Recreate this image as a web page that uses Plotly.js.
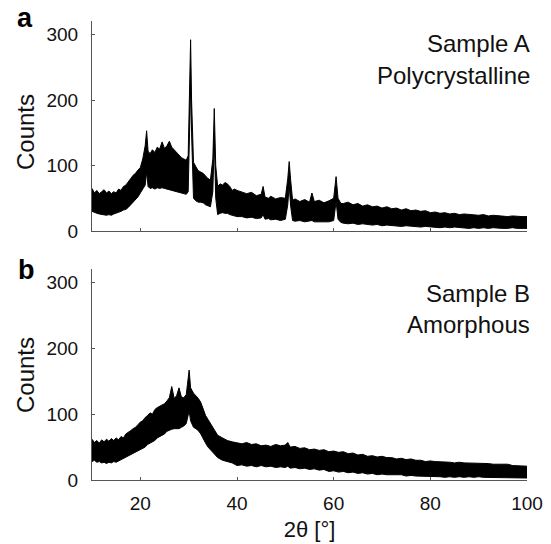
<!DOCTYPE html>
<html>
<head>
<meta charset="utf-8">
<script src="https://cdn.plot.ly/plotly-3.0.1.min.js"></script>
<style>html,body{margin:0;padding:0;background:#fff;}#chart{width:551px;height:544px;}</style>
</head>
<body>
<div id="chart"></div>
<script>
// Sample A (polycrystalline): 2θ positions with upper / lower edge of the noisy trace
var twoThetaA = [10,10.5,11,11.5,12,12.5,13,13.5,14,14.5,15,15.5,16,16.5,17,17.5,18,18.5,19,19.5,20,20.5,21,21.3,21.6,22,22.5,23,23.5,24,24.5,25,25.5,26,26.5,27,27.5,28,28.5,29,29.5,29.9,30.2,30.4,30.6,31.0,31.5,32,32.5,33,33.5,34,34.5,35.0,35.3,35.6,36,36.5,37,37.5,38,38.5,39,39.5,40,
  41,42,43,44,45,45.4,45.8,46.5,47,48,49,50,50.5,50.8,51.1,51.5,52,53,54,55,55.5,56,57,58,59,60,60.5,60.9,61.5,
  62,63,64,65,66,67,68,69,70,71,72,73,74,75,76,77,78,79,80,81,82,83,84,85,86,87,88,89,90,91,92,93,94,95,96,97,98,99,100];
var upperA = [65,58,62,57,60,63,58,61,57,60,58,64,62,68,70,76,80,85,88,93,97,110,130,153,122,118,124,120,128,125,136,126,130,137,128,124,120,115,112,110,108,115,200,292,200,105,98,92,90,88,84,80,78,110,187,100,68,72,70,74,72,68,62,64,62,
  60,57,59,54,56,68,52,50,53,49,51,50,80,106,78,47,49,45,48,44,58,45,47,43,46,50,83,50,42,
  42,44,40,42,38,40,37,38,35,37,34,35,32,34,31,32,30,31,28,29,27,28,26,27,25,26,25,25,24,25,23,24,23,23,22,23,22,22,22];
var lowerA = [30,28,27,26,25,24,24,25,24,26,27,28,30,32,33,36,40,44,47,52,58,65,70,90,68,65,66,64,66,65,66,65,64,63,62,60,60,58,58,57,56,60,150,220,150,50,46,44,44,43,40,38,37,60,140,50,25,27,28,27,27,25,24,23,22,
  22,20,21,19,20,25,18,19,17,18,16,18,40,70,38,16,15,16,14,15,16,14,14,13,14,16,45,18,13,
  12,11,12,10,11,10,9,10,8,9,8,8,7,8,7,7,6,7,6,6,5,6,5,6,5,5,4,5,4,5,4,5,4,4,4,5,4,4,4];

// Sample B (amorphous)
var twoThetaB = [10,10.5,11,11.5,12,12.5,13,13.5,14,14.5,15,15.5,16,16.5,17,17.5,18,18.5,19,19.5,20,20.5,21,21.5,22,22.5,23,23.5,24,24.5,25,25.5,26,
  26.5,27,27.5,28,28.5,29,29.5,29.8,30.1,30.4,31,31.5,32,32.5,33,33.5,34,34.5,35,35.5,36,37,38,39,
  40,41,42,43,44,45,46,47,48,49,50,50.5,51,52,53,54,55,56,57,58,59,60,61,62,63,64,65,66,67,68,69,70,71,72,73,74,75,76,77,78,79,80,81,82,83,84,85,86,87,88,89,90,91,92,93,94,95,96,97,98,99,100];
var upperB = [62,57,60,56,61,58,62,59,63,60,64,61,66,64,70,72,75,78,80,84,88,90,95,98,102,100,107,110,112,115,116,120,125,
  142,124,128,140,126,125,130,145,167,140,132,128,124,118,108,98,92,86,78,72,68,64,60,58,
  57,55,57,54,55,52,53,51,54,52,53,57,50,51,48,49,46,47,45,46,43,44,42,43,40,41,38,39,36,37,35,36,34,34,32,33,31,32,30,30,28,29,28,28,27,27,26,27,26,26,25,26,25,25,24,24,23,24,22,22,21,21];
var lowerB = [28,30,27,28,26,27,25,27,26,28,27,29,30,32,35,36,38,41,42,45,46,49,50,54,56,58,60,64,66,68,70,74,76,
  77,78,78,78,80,82,86,95,105,90,80,78,75,70,62,56,50,46,42,38,34,30,28,26,
  22,23,21,22,20,22,20,21,19,20,19,21,18,19,17,18,16,17,15,16,13,14,12,13,11,12,10,11,9,10,8,9,8,8,7,8,6,7,6,6,5,6,5,5,4,5,4,5,4,5,4,5,4,4,3,4,3,4,3,3,3,3];

var xTicks = [20,40,60,80,100];
var yTicks = [0,100,200,300];

var W = 551, H = 544;
var xDom = [92/W, 527/W];
var yDomA = [1-231/H, 1-21.4/H];
var yDomB = [1-480/H, 1-269.4/H];

function band(x, lo, hi, xa, ya){
  return [
    {x:x, y:lo, xaxis:xa, yaxis:ya, type:'scatter', mode:'lines', line:{color:'#000', width:1}, hoverinfo:'skip', showlegend:false},
    {x:x, y:hi, xaxis:xa, yaxis:ya, type:'scatter', mode:'lines', line:{color:'#000', width:1}, fill:'tonexty', fillcolor:'#000', hoverinfo:'skip', showlegend:false}
  ];
}

var data = band(twoThetaA, lowerA, upperA, 'x', 'y').concat(band(twoThetaB, lowerB, upperB, 'x2', 'y2'));

var fam = '"Liberation Sans", Arial, Helvetica, sans-serif';
function xaxis(showLabels, anchor){
  return {domain:xDom, anchor:anchor, range:[10,100], tickvals:xTicks, showticklabels:showLabels,
    ticks:'inside', ticklen:3, tickcolor:'#555', showline:true, linecolor:'#555', linewidth:1,
    ticklabelstandoff:6,
    showgrid:false, zeroline:false, fixedrange:true, tickfont:{family:fam, size:19, color:'#111'}};
}
function yaxis(dom, anchor){
  return {domain:dom, anchor:anchor, range:[0,320], tickvals:yTicks,
    ticks:'inside', ticklen:3, tickcolor:'#555', showline:true, linecolor:'#555', linewidth:1,
    ticklabelstandoff:9,
    showgrid:false, zeroline:false, fixedrange:true, tickfont:{family:fam, size:19, color:'#111'}};
}
var xa2 = xaxis(true, 'y2');
xa2.title = {text:'2θ [°]', font:{family:fam, size:22, color:'#111'}, standoff:8};

var layout = {
  width:W, height:H, margin:{l:0, r:0, t:0, b:0},
  paper_bgcolor:'#fff', plot_bgcolor:'#fff', showlegend:false,
  xaxis: xaxis(false, 'y'), yaxis: yaxis(yDomA, 'x'),
  xaxis2: xa2, yaxis2: yaxis(yDomB, 'x2'),
  annotations:[
    {text:'<b>a</b>', xref:'paper', yref:'paper', x:25/W, y:1-18/H, xanchor:'center', yanchor:'middle', showarrow:false, font:{family:fam, size:27, color:'#000'}},
    {text:'<b>b</b>', xref:'paper', yref:'paper', x:26/W, y:1-270/H, xanchor:'center', yanchor:'middle', showarrow:false, font:{family:fam, size:27, color:'#000'}},
    {text:'Counts', xref:'paper', yref:'paper', x:25/W, y:1-132/H, textangle:-90, xanchor:'center', yanchor:'middle', showarrow:false, font:{family:fam, size:24, color:'#111'}},
    {text:'Counts', xref:'paper', yref:'paper', x:25/W, y:1-375/H, textangle:-90, xanchor:'center', yanchor:'middle', showarrow:false, font:{family:fam, size:24, color:'#111'}},
    {text:'Sample A', xref:'paper', yref:'paper', x:532/W, y:1-43/H, xanchor:'right', yanchor:'middle', showarrow:false, font:{family:fam, size:24, color:'#111'}},
    {text:'Polycrystalline', xref:'paper', yref:'paper', x:532/W, y:1-75/H, xanchor:'right', yanchor:'middle', showarrow:false, font:{family:fam, size:24, color:'#111'}},
    {text:'Sample B', xref:'paper', yref:'paper', x:532/W, y:1-293/H, xanchor:'right', yanchor:'middle', showarrow:false, font:{family:fam, size:24, color:'#111'}},
    {text:'Amorphous', xref:'paper', yref:'paper', x:532/W, y:1-324/H, xanchor:'right', yanchor:'middle', showarrow:false, font:{family:fam, size:24, color:'#111'}}
  ]
};

Plotly.newPlot('chart', data, layout, {staticPlot:true, displayModeBar:false});
</script>
</body>
</html>
